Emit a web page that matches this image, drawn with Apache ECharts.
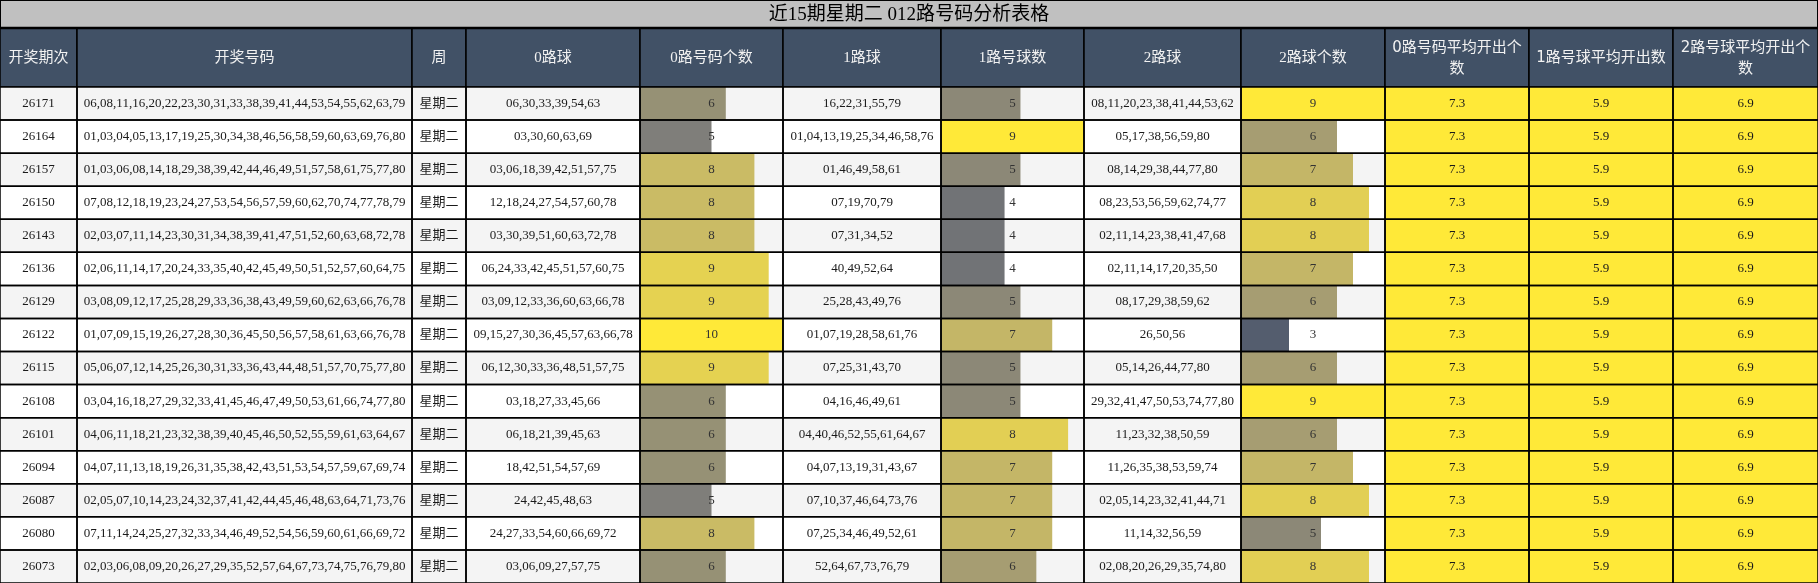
<!DOCTYPE html>
<html lang="zh-CN" style="height: 100%">
<head>
    <meta charset="utf-8" />
</head>
<body style="height: 100%; margin: 0">
<div id="container" style="width: 1818px; height: 583px"></div>
<script src="https://fastly.jsdelivr.net/npm/echarts@6/dist/echarts.min.js"></script>
<script type="text/javascript">
    // ---- data ----
    var titleText = '近15期星期二 012路号码分析表格';
    var headers = ['开奖期次', '开奖号码', '周', '0路球', '0路号码个数', '1路球', '1路号球数',
        '2路球', '2路球个数', '0路号码平均开出个\n数', '1路号球平均开出数', '2路号球平均开出个\n数'];
    var periods = ['26171', '26164', '26157', '26150', '26143', '26136', '26129', '26122',
        '26115', '26108', '26101', '26094', '26087', '26080', '26073'];
    var weekdays = ['星期二', '星期二', '星期二', '星期二', '星期二', '星期二', '星期二', '星期二',
        '星期二', '星期二', '星期二', '星期二', '星期二', '星期二', '星期二'];
    var drawNumbers = [
        '06,08,11,16,20,22,23,30,31,33,38,39,41,44,53,54,55,62,63,79',
        '01,03,04,05,13,17,19,25,30,34,38,46,56,58,59,60,63,69,76,80',
        '01,03,06,08,14,18,29,38,39,42,44,46,49,51,57,58,61,75,77,80',
        '07,08,12,18,19,23,24,27,53,54,56,57,59,60,62,70,74,77,78,79',
        '02,03,07,11,14,23,30,31,34,38,39,41,47,51,52,60,63,68,72,78',
        '02,06,11,14,17,20,24,33,35,40,42,45,49,50,51,52,57,60,64,75',
        '03,08,09,12,17,25,28,29,33,36,38,43,49,59,60,62,63,66,76,78',
        '01,07,09,15,19,26,27,28,30,36,45,50,56,57,58,61,63,66,76,78',
        '05,06,07,12,14,25,26,30,31,33,36,43,44,48,51,57,70,75,77,80',
        '03,04,16,18,27,29,32,33,41,45,46,47,49,50,53,61,66,74,77,80',
        '04,06,11,18,21,23,32,38,39,40,45,46,50,52,55,59,61,63,64,67',
        '04,07,11,13,18,19,26,31,35,38,42,43,51,53,54,57,59,67,69,74',
        '02,05,07,10,14,23,24,32,37,41,42,44,45,46,48,63,64,71,73,76',
        '07,11,14,24,25,27,32,33,34,46,49,52,54,56,59,60,61,66,69,72',
        '02,03,06,08,09,20,26,27,29,35,52,57,64,67,73,74,75,76,79,80'
    ];
    var zeroBalls = ['06,30,33,39,54,63', '03,30,60,63,69', '03,06,18,39,42,51,57,75',
        '12,18,24,27,54,57,60,78', '03,30,39,51,60,63,72,78', '06,24,33,42,45,51,57,60,75',
        '03,09,12,33,36,60,63,66,78', '09,15,27,30,36,45,57,63,66,78', '06,12,30,33,36,48,51,57,75',
        '03,18,27,33,45,66', '06,18,21,39,45,63', '18,42,51,54,57,69', '24,42,45,48,63',
        '24,27,33,54,60,66,69,72', '03,06,09,27,57,75'];
    var zeroCounts = [6, 5, 8, 8, 8, 9, 9, 10, 9, 6, 6, 6, 5, 8, 6];
    var oneBalls = ['16,22,31,55,79', '01,04,13,19,25,34,46,58,76', '01,46,49,58,61', '07,19,70,79',
        '07,31,34,52', '40,49,52,64', '25,28,43,49,76', '01,07,19,28,58,61,76', '07,25,31,43,70',
        '04,16,46,49,61', '04,40,46,52,55,61,64,67', '04,07,13,19,31,43,67', '07,10,37,46,64,73,76',
        '07,25,34,46,49,52,61', '52,64,67,73,76,79'];
    var oneCounts = [5, 9, 5, 4, 4, 4, 5, 7, 5, 5, 8, 7, 7, 7, 6];
    var twoBalls = ['08,11,20,23,38,41,44,53,62', '05,17,38,56,59,80', '08,14,29,38,44,77,80',
        '08,23,53,56,59,62,74,77', '02,11,14,23,38,41,47,68', '02,11,14,17,20,35,50',
        '08,17,29,38,59,62', '26,50,56', '05,14,26,44,77,80', '29,32,41,47,50,53,74,77,80',
        '11,23,32,38,50,59', '11,26,35,38,53,59,74', '02,05,14,23,32,41,44,71',
        '11,14,32,56,59', '02,08,20,26,29,35,74,80'];
    var twoCounts = [9, 6, 7, 8, 8, 7, 6, 3, 6, 9, 6, 7, 8, 5, 8];
    var averages = ['7.3', '5.9', '6.9'];

    // ---- layout ----
    var W = 1818;
    var TITLE_H = 28;
    var BODY_TOP = 87;
    var BODY_H = 496;
    var COLS = [0, 77, 412, 466, 640, 783, 941, 1084, 1241, 1385, 1529, 1673, 1818];
    var HEAD_BG = '#415166';
    var YELLOW = '#ffe938';
    var SCALE = ['#545d6e', '#7f7e7a', '#a69d72', '#d3c262', '#ffe938'];
    var SERIF = "'Liberation Serif', 'Noto Sans CJK SC', serif";
    var SANS = "'DejaVu Sans', 'Noto Sans CJK SC', sans-serif";

    var textCols = { 0: periods, 1: drawNumbers, 2: weekdays, 3: zeroBalls, 5: oneBalls, 7: twoBalls };
    var barCols = [4, 6, 8];
    var barCounts = [zeroCounts, oneCounts, twoCounts];

    function cellText(j, row) {
        if (textCols[j]) return textCols[j][row];
        if (j >= 9) return averages[j - 9];
        return null;
    }

    function rowBox(api, row) {
        var band = api.size([0, 1])[1];
        var yc = api.coord([0, row])[1];
        return { y: yc - band / 2, h: band, yc: yc };
    }

    function renderCells(params, api) {
        var row = params.dataIndex;
        var b = rowBox(api, row);
        var children = [];
        for (var j = 0; j < COLS.length - 1; j++) {
            var x0 = api.coord([COLS[j], row])[0];
            var x1 = api.coord([COLS[j + 1], row])[0];
            var fill = j >= 9 ? YELLOW : (row % 2 === 0 ? '#f4f4f4' : '#ffffff');
            children.push({
                type: 'rect',
                shape: { x: x0, y: b.y, width: x1 - x0, height: b.h },
                style: { fill: fill }
            });
            var txt = cellText(j, row);
            if (txt) {
                children.push({
                    type: 'text',
                    x: (x0 + x1) / 2,
                    y: b.yc,
                    style: {
                        text: txt,
                        fill: '#1a1a1a',
                        font: (j === 2 ? '13px ' : '13px ') + SERIF,
                        align: 'center', verticalAlign: 'middle',
                        textAlign: 'center', textVerticalAlign: 'middle'
                    }
                });
            }
        }
        return { type: 'group', children: children };
    }

    function renderFrame(params, api) {
        var row = params.dataIndex;
        var b = rowBox(api, row);
        var children = [];
        for (var j = 0; j < COLS.length - 1; j++) {
            var x0 = api.coord([COLS[j], row])[0];
            var x1 = api.coord([COLS[j + 1], row])[0];
            children.push({
                type: 'rect',
                shape: { x: x0, y: b.y, width: x1 - x0, height: b.h },
                style: { fill: null, stroke: '#000', lineWidth: 1.5 }
            });
        }
        return { type: 'group', children: children };
    }

    // title and header
    var graphics = [{
        type: 'rect',
        shape: { x: 0, y: 0, width: W, height: TITLE_H },
        style: { fill: '#c0c0c0', stroke: '#000', lineWidth: 2 }
    }, {
        type: 'text',
        x: W / 2,
        y: TITLE_H / 2 + 1,
        style: {
            text: titleText, fill: '#000', font: '19px ' + SERIF,
            align: 'center', verticalAlign: 'middle',
            textAlign: 'center', textVerticalAlign: 'middle'
        }
    }];
    headers.forEach(function (h, j) {
        graphics.push({
            type: 'rect',
            shape: { x: COLS[j], y: TITLE_H, width: COLS[j + 1] - COLS[j], height: BODY_TOP - TITLE_H },
            style: { fill: HEAD_BG, stroke: '#000', lineWidth: 1.5 }
        });
        graphics.push({
            type: 'text',
            x: (COLS[j] + COLS[j + 1]) / 2,
            y: (TITLE_H + BODY_TOP) / 2 + 1,
            style: {
                text: h, fill: '#f2f2f2', font: '15px ' + (j >= 9 ? SANS : SERIF),
                lineHeight: 21,
                align: 'center', verticalAlign: 'middle',
                textAlign: 'center', textVerticalAlign: 'middle'
            }
        });
    });
    graphics.push({
        type: 'line',
        shape: { x1: 0, y1: TITLE_H, x2: W, y2: TITLE_H },
        style: { stroke: '#000', lineWidth: 2.5 }
    });

    var rowIndex = periods.map(function (p, i) { return [0, i]; });

    var grids = [{ left: 0, top: BODY_TOP, width: W, height: BODY_H }];
    var xAxes = [{ type: 'value', gridIndex: 0, min: 0, max: W, show: false }];
    var yAxes = [{ type: 'category', gridIndex: 0, data: periods, inverse: true, show: false }];
    var series = [{
        type: 'custom', name: 'cells', xAxisIndex: 0, yAxisIndex: 0, z: 1,
        renderItem: renderCells, data: rowIndex, silent: true
    }, {
        type: 'custom', name: 'frame', xAxisIndex: 0, yAxisIndex: 0, z: 3,
        renderItem: renderFrame, data: rowIndex, silent: true
    }];
    var visualMaps = [];

    barCols.forEach(function (col, k) {
        var counts = barCounts[k];
        var max = Math.max.apply(null, counts);
        var g = k + 1;
        grids.push({ left: COLS[col], top: BODY_TOP, width: COLS[col + 1] - COLS[col], height: BODY_H });
        xAxes.push({ type: 'value', gridIndex: g, min: 0, max: max, show: false });
        yAxes.push({ type: 'category', gridIndex: g, data: periods, inverse: true, show: false });
        visualMaps.push({
            type: 'continuous', show: false, seriesIndex: series.length, dimension: 0,
            min: max / 3, max: max, inRange: { color: SCALE }
        });
        series.push({
            type: 'bar', xAxisIndex: g, yAxisIndex: g, z: 2, silent: true,
            barCategoryGap: '0%', barGap: '-100%',
            data: counts.map(function (v, i) { return [v, i]; })
        });
        series.push({
            type: 'bar', xAxisIndex: g, yAxisIndex: g, z: 4, silent: true,
            barCategoryGap: '0%', barGap: '-100%',
            itemStyle: { color: 'rgba(0,0,0,0)' },
            label: {
                show: true, position: 'inside', color: '#333',
                fontFamily: SERIF, fontSize: 13,
                formatter: function (p) { return counts[p.dataIndex]; }
            },
            data: counts.map(function (v, i) { return [max, i]; })
        });
    });

    var chart = echarts.init(document.getElementById('container'), null, { renderer: 'canvas' });
    chart.setOption({
        animation: false,
        backgroundColor: '#ffffff',
        grid: grids,
        xAxis: xAxes,
        yAxis: yAxes,
        visualMap: visualMaps,
        graphic: graphics,
        series: series
    });
</script>
</body>
</html>
